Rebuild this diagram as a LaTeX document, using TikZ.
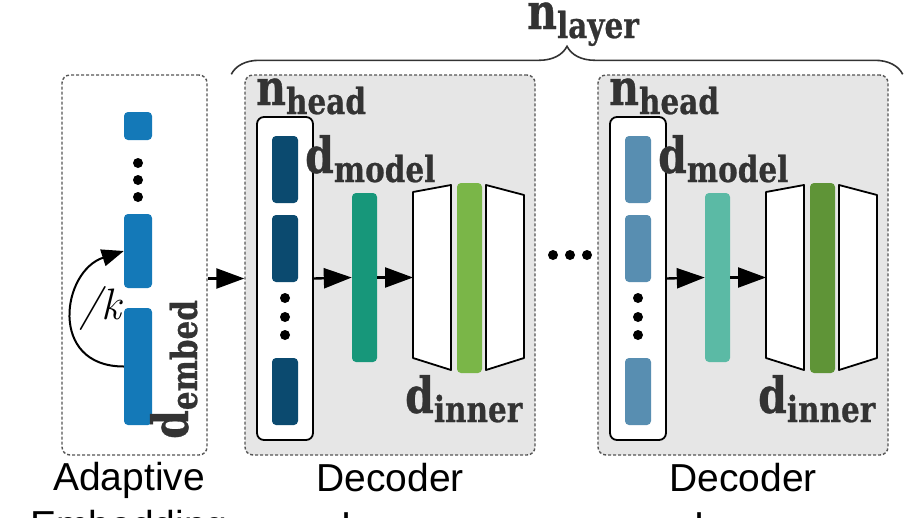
\documentclass[tikz,border=0pt]{standalone}
\usepackage{fontspec}
\setmainfont{Liberation Sans}
\newfontfamily\lblfont[FakeStretch=0.82,FakeBold=0.6]{DejaVu Serif}
\newfontfamily\lmfont{Latin Modern Roman}
\usetikzlibrary{arrows.meta,decorations.pathreplacing,calc}
\definecolor{embblue}{HTML}{1479B8}
\definecolor{headdark}{HTML}{0B4A6F}
\definecolor{tealdark}{HTML}{17977A}
\definecolor{greenlight}{HTML}{7AB648}
\definecolor{headlight}{HTML}{588EB1}
\definecolor{teallight}{HTML}{5BBAA5}
\definecolor{greendark}{HTML}{5F9437}
\definecolor{graybg}{HTML}{E6E6E6}
\definecolor{dashc}{HTML}{555555}
\definecolor{lblc}{HTML}{333333}
\newcommand{\dimlab}[2]{{\lblfont\bfseries\fontsize{50}{50}\selectfont #1\raisebox{-9pt}{\fontsize{36}{36}\selectfont #2}}}
\tikzset{
  dashbox/.style={draw=dashc, line width=1.4pt, dash pattern=on 3pt off 2pt, rounded corners=8pt, inner sep=0pt},
  headbox/.style={draw=black, fill=white, line width=1.8pt, rounded corners=7pt, inner sep=0pt},
  bar/.style={rounded corners=4pt, inner sep=0pt, draw=none},
  dotnode/.style={circle, fill=black, inner sep=0pt, minimum size=10pt},
  arr/.style={-{Triangle[length=28pt,width=20pt]}, line width=2.4pt},
  arrsmall/.style={-{Triangle[length=22pt,width=17pt]}, line width=2pt},
  trap/.style={draw=black, fill=white, line width=1.8pt, line join=round},
  lbl/.style={text=lblc, inner sep=0pt},
  capt/.style={font=\fontsize{39}{48}\selectfont, align=center, inner sep=0pt, anchor=north}
}
\newcommand{\decoderlayer}[5]{%
\begin{scope}[xshift=#2pt]
\node[dashbox, fill=graybg, minimum width=290pt, minimum height=380pt] (dec#1) at (390,265) {};
\node[lbl, anchor=base west] (nh#1) at (256,105) {\dimlab{n}{head}};
\node[headbox, minimum width=56pt, minimum height=323pt] (wb#1) at (285,278.5) {};
\node[bar, fill=#3, minimum width=26pt, minimum height=67pt] (h#1a) at (285,169.5) {};
\node[bar, fill=#3, minimum width=26pt, minimum height=67pt] (h#1b) at (285,248.5) {};
\node[bar, fill=#3, minimum width=26pt, minimum height=67pt] (h#1c) at (285,391.5) {};
\node[dotnode] (hd#1a) at (285,298) {};
\node[dotnode] (hd#1b) at (285,317) {};
\node[dotnode] (hd#1c) at (285,335) {};
\node[lbl, anchor=base west] (dm#1) at (305,173) {\dimlab{d}{model}};
\node[bar, fill=#4, minimum width=25pt, minimum height=169pt] (tl#1) at (364.5,277.5) {};
\draw[trap] (413,192) -- (451,185) -- (451,370) -- (413,358) -- cycle;
\node[bar, fill=#5, minimum width=25pt, minimum height=190pt] (gr#1) at (469.5,278) {};
\draw[trap] (486,185) -- (524,195) -- (524,358) -- (486,370) -- cycle;
\coordinate (ti#1) at (413,277.5);
\node[lbl, anchor=base west] (di#1) at (405,413) {\dimlab{d}{inner}};
\node[capt] (cap#1) at (390,463) {Decoder\\Layer};
\draw[arr] (wb#1.east) -- (tl#1.west);
\draw[arr] (tl#1.east) -- (ti#1);
\end{scope}}
\begin{document}
\begin{tikzpicture}[x=1pt,y=-1pt]
\useasboundingbox (0,0) rectangle (918,517);
\clip (0,0) rectangle (918,517);
% adaptive embedding
\node[dashbox, minimum width=145pt, minimum height=380pt] (embbox) at (134.5,265) {};
\node[bar, fill=embblue, minimum width=28pt, minimum height=28pt] (e1) at (138,126) {};
\node[bar, fill=embblue, minimum width=28pt, minimum height=74pt] (e2) at (138,251) {};
\node[bar, fill=embblue, minimum width=28pt, minimum height=117pt] (e3) at (138,366.5) {};
\node[dotnode] (ed1) at (138,163) {};
\node[dotnode] (ed2) at (138,180) {};
\node[dotnode] (ed3) at (138,197) {};
\draw[arrsmall] (e3.west) .. controls +(-76,0) and +(-62,20) .. (e2.west);
\node[inner sep=0pt, font=\lmfont\fontsize{44}{44}\selectfont] (kl) at (100,308) {\itshape /k};
\node[lbl, rotate=90, anchor=base west] (de) at (188,439) {\dimlab{d}{embed}};
\node[capt] (capE) at (129,462) {Adaptive\\Embedding};
% decoder layers
\decoderlayer{1}{0}{headdark}{tealdark}{greenlight}
\decoderlayer{2}{353}{headlight}{teallight}{greendark}
\draw[arr] (embbox.east |- wb1.east) -- (dec1.west |- wb1.east);
% dots between layers
\node[dotnode] (md1) at (553,255) {};
\node[dotnode] (md2) at (570,255) {};
\node[dotnode] (md3) at (587,255) {};
% brace
\coordinate (brL) at ($(dec1.north west)+(-13,0)$);
\coordinate (brR) at ($(dec2.north east)+(14,0)$);
\draw[draw=lblc, line width=1.6pt, decorate, decoration={brace, amplitude=28pt}] (brL) -- (brR);
\node[lbl, anchor=base west] (nl) at (527,29) {\dimlab{n}{layer}};
\end{tikzpicture}
\end{document}
